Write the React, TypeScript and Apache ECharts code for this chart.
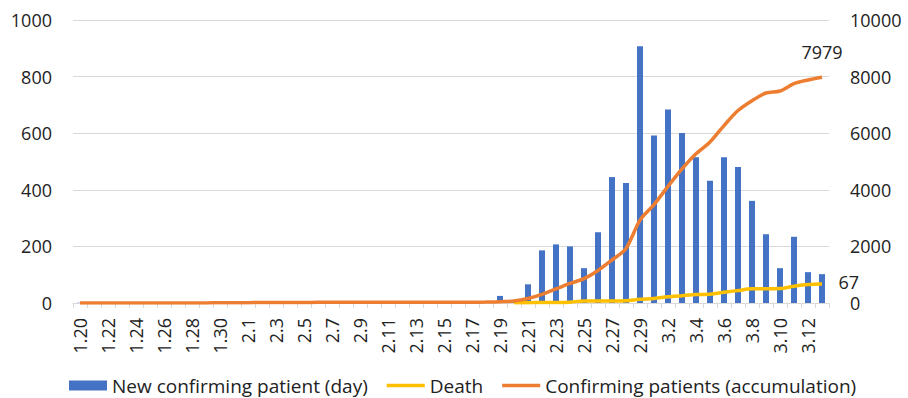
import React, { useEffect, useRef } from "react";
import * as echarts from "echarts";

const categories: string[] = [
  "1.20", "1.21", "1.22", "1.23", "1.24", "1.25", "1.26", "1.27", "1.28", "1.29", "1.30", "1.31",
  "2.1", "2.2", "2.3", "2.4", "2.5", "2.6", "2.7", "2.8", "2.9", "2.10", "2.11", "2.12", "2.13", "2.14",
  "2.15", "2.16", "2.17", "2.18", "2.19", "2.20", "2.21", "2.22", "2.23", "2.24", "2.25", "2.26", "2.27",
  "2.28", "2.29",
  "3.1", "3.2", "3.3", "3.4", "3.5", "3.6", "3.7", "3.8", "3.9", "3.10", "3.11", "3.12", "3.13",
];

const newConfirmed: number[] = [
  1, 0, 0, 0, 1, 0, 1, 1, 0, 0, 2, 5,
  1, 3, 0, 1, 3, 4, 1, 0, 3, 0, 1, 0, 0, 0, 0, 1, 1, 1, 25, 8, 66, 186, 207, 200, 123, 250, 445, 424, 907,
  592, 684, 601, 515, 432, 515, 481, 361, 243, 123, 234, 109, 102,
];

const deathsFrom220: number[] = [
  1, 1, 2, 2, 3, 7, 7, 7, 8, 13,
  16, 22, 26, 30, 31, 38, 44, 50, 50, 51, 59, 65, 67,
];

const accumulated: number[] = [
  1, 1, 1, 1, 2, 2, 3, 4, 4, 4, 6, 11,
  12, 15, 15, 16, 19, 23, 24, 24, 27, 27, 28, 28, 28, 28, 28, 29, 30, 31, 46, 70, 160, 305, 495, 690, 860,
  1150, 1520, 1930, 2930,
  3480, 4120, 4740, 5270, 5690, 6270, 6800, 7150, 7420, 7490, 7750, 7880, 7979,
];

const leftTicks = { min: 0, max: 1000, interval: 200 };
const rightTicks = { min: 0, max: 10000, interval: 2000 };

const FONT = "Open Sans";
const LINE_ICON = "path://M0 0H38V3.5H0Z";

export default function App() {
  const ref = useRef<HTMLDivElement>(null);

  useEffect(() => {
    if (!ref.current) return;
    const chart = echarts.init(ref.current, undefined, { renderer: "svg" });
    const n = categories.length;
    const deaths: (number | null)[] = [
      ...new Array(n - deathsFrom220.length).fill(null),
      ...deathsFrom220,
    ];
    const lastDeath = deathsFrom220[deathsFrom220.length - 1];
    const lastAcc = accumulated[accumulated.length - 1];
    const plain = (v: number) => String(v);

    chart.setOption({
      animation: false,
      textStyle: { fontFamily: FONT },
      grid: { left: 73, right: 79, top: 20, bottom: 95, containLabel: false },
      legend: {
        left: 64,
        top: 371,
        itemWidth: 38,
        itemHeight: 10,
        itemGap: 19,
        symbolKeepAspect: true,
        textStyle: { fontFamily: FONT, fontSize: 19, color: "#222" },
        data: [
          { name: "New confirming patient (day)", icon: "rect" },
          { name: "Death", icon: LINE_ICON },
          { name: "Confirming patients (accumulation)", icon: LINE_ICON },
        ],
      },
      xAxis: {
        type: "category",
        data: categories,
        boundaryGap: true,
        axisLine: { lineStyle: { color: "#d9d9d9", width: 1 } },
        axisTick: { show: true, interval: 0, length: 5, lineStyle: { color: "#d9d9d9" } },
        axisLabel: {
          interval: 1,
          rotate: 90,
          margin: 15,
          fontFamily: FONT,
          fontSize: 18,
          color: "#222",
        },
        splitLine: { show: false },
      },
      yAxis: [
        {
          type: "value",
          ...leftTicks,
          axisLine: { show: false },
          axisTick: { show: false },
          axisLabel: { margin: 21, fontFamily: FONT, fontSize: 18, lineHeight: 18, color: "#222", formatter: plain },
          splitLine: { show: true, lineStyle: { color: "#d9d9d9", width: 1 } },
        },
        {
          type: "value",
          ...rightTicks,
          position: "right",
          axisLine: { show: false },
          axisTick: { show: false },
          axisLabel: { margin: 21, fontFamily: FONT, fontSize: 18, lineHeight: 18, color: "#222", formatter: plain },
          splitLine: { show: false },
        },
      ],
      series: [
        {
          name: "New confirming patient (day)",
          type: "bar",
          yAxisIndex: 0,
          data: newConfirmed,
          barWidth: 6,
          itemStyle: { color: "#4472C4" },
        },
        {
          name: "Death",
          type: "line",
          yAxisIndex: 0,
          data: deaths,
          symbol: "none",
          smooth: 0.3,
          lineStyle: { color: "#FFC000", width: 3.5 },
          itemStyle: { color: "#FFC000" },
          markPoint: {
            symbol: "circle",
            symbolSize: 1,
            itemStyle: { color: "rgba(0,0,0,0)" },
            label: {
              show: true,
              position: "right",
              distance: 16,
              offset: [0, -2],
              lineHeight: 17,
              formatter: "{c}",
              fontFamily: FONT,
              fontSize: 18,
              color: "#222",
            },
            data: [{ coord: [n - 1, lastDeath], value: lastDeath }],
          },
        },
        {
          name: "Confirming patients (accumulation)",
          type: "line",
          yAxisIndex: 1,
          data: accumulated,
          symbol: "none",
          smooth: 0.3,
          lineStyle: { color: "#ED7D31", width: 3.5 },
          itemStyle: { color: "#ED7D31" },
          markPoint: {
            symbol: "circle",
            symbolSize: 1,
            itemStyle: { color: "rgba(0,0,0,0)" },
            label: {
              show: true,
              position: "top",
              distance: 16,
              formatter: "{c}",
              fontFamily: FONT,
              fontSize: 18,
              color: "#222",
            },
            data: [{ coord: [n - 1, lastAcc], value: lastAcc }],
          },
        },
      ],
    });
    return () => chart.dispose();
  }, []);

  return (
    <div
      ref={ref}
      style={{ position: "fixed", left: 0, top: 0, width: 908, height: 398, background: "#fff" }}
    />
  );
}
